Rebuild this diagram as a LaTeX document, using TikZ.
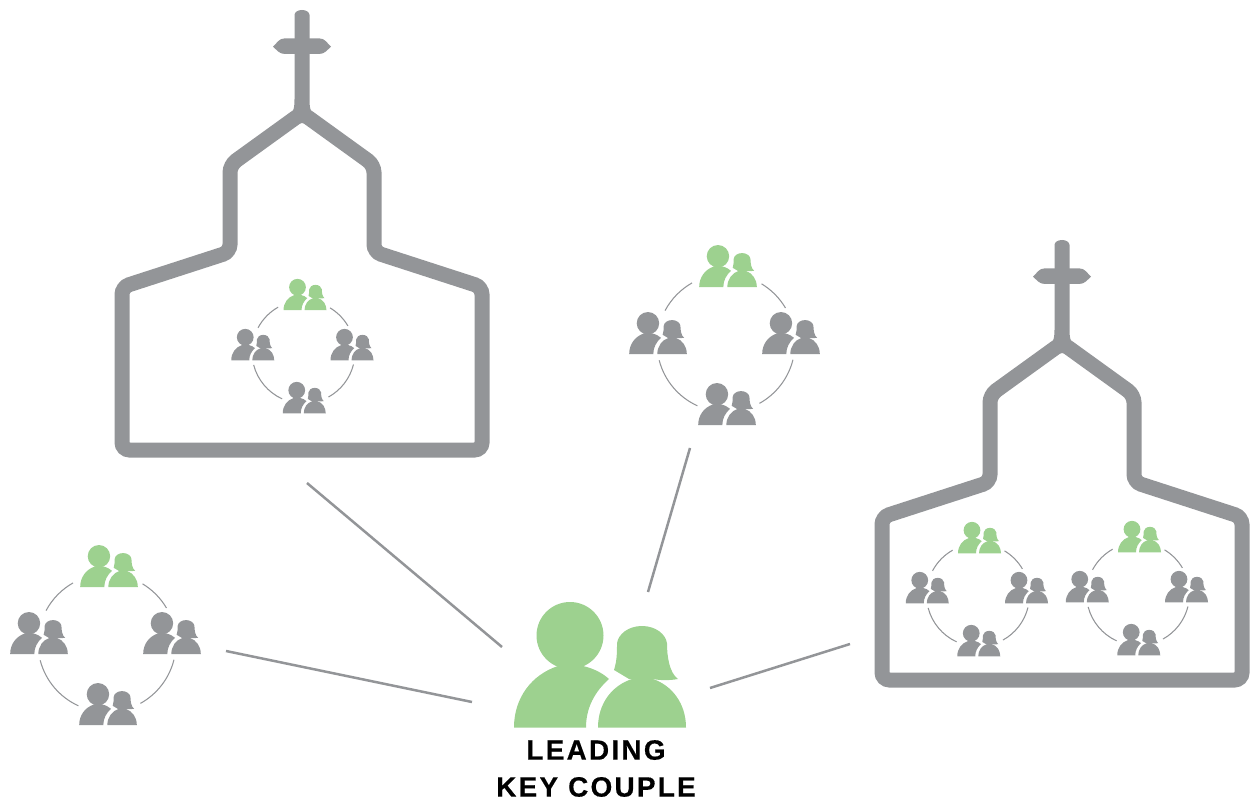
\documentclass[tikz,border=0pt]{standalone}
\usepackage{fontspec}
\newfontfamily\captionfont[LetterSpace=8,BoldFeatures={FakeBold=0.4}]{Liberation Sans}
\definecolor{cGrey}{RGB}{147,149,152}
\definecolor{cGreen}{RGB}{157,209,143}

\begin{document}
\begin{tikzpicture}[x=0.2mm, y=0.2mm,
wall/.style={draw = cGrey, line width = 3mm, rounded corners = 1.5mm, line join = miter},
ringline/.style={draw = cGrey, line width = 0.6pt},
link/.style={draw = cGrey, line width = 0.5mm},
caption/.style={align = center, inner sep = 0cm, font = \captionfont\bfseries\fontsize{15.9}{21}\selectfont},
pics/couple/.style={code={
	\fill[#1] (-30,92) circle[radius = 33.5];
	\fill[#1] (-86,0) .. controls (-86,30) and (-68,53) .. (-42,61.5) -- (-17,61.5)
		.. controls (-6,59) and (3,54) .. (9,48.5) .. controls (-5,36) and (-14,20) .. (-14,0) -- cycle;
	\fill[#1] (-2,0) .. controls (-2,24) and (12,42) .. (32,48.5) -- (53,48.5)
		.. controls (72,42) and (86,24) .. (86,0) -- cycle;
	\fill[#1] (14,57.5) .. controls (17,67) and (17,75) .. (17,84) .. controls (18,93) and (28,101.5) .. (42,101.5)
		.. controls (56,101.5) and (66,93) .. (67,84) .. controls (67,72) and (69,55) .. (78,48.5)
		.. controls (70,47) and (60,47) .. (53,48.5) -- (29,48.5) -- cycle;
}},
pics/ring/.style={code={
	\pic[transform shape] at (6,167) {couple = cGreen};
	\pic[transform shape] at (-203,-33) {couple = cGrey};
	\pic[transform shape] at (194,-33) {couple = cGrey};
	\pic[transform shape] at (3,-245) {couple = cGrey};
	\draw[ringline] (119.5:206) arc[start angle = 119.5, end angle = 152, radius = 206];
	\draw[ringline] (194.5:206) arc[start angle = 194.5, end angle = 245.5, radius = 206];
	\draw[ringline] (299:206) arc[start angle = 299, end angle = 346, radius = 206];
	\draw[ringline] (30.5:206) arc[start angle = 30.5, end angle = 59, radius = 206];
}},
pics/church/.style={code={
	\draw[wall] (0,0) -- (-72,-52) -- (-72,-139) -- (-180,-174) -- (-180,-337)
		-- (180,-337) -- (180,-174) -- (72,-139) -- (72,-52) -- cycle;
	\fill[cGrey] (-11,-1) .. controls (-8,3) and (-7.5,6) .. (-7.5,14) -- (-7.5,98)
		.. controls (-7.5,101) and (-4,103) .. (0,103) .. controls (4,103) and (7.5,101) .. (7.5,98)
		-- (7.5,14) .. controls (7.5,6) and (8,3) .. (11,-1) -- cycle;
	\fill[cGrey] (-29,66.3) .. controls (-25,70) and (-23,74.7) .. (-17,74.7) -- (17,74.7)
		.. controls (23,74.7) and (25,70) .. (29,66.3) .. controls (25,63) and (23,59) .. (17,59)
		-- (-17,59) .. controls (-23,59) and (-25,63) .. (-29,66.3) -- cycle;
}}]

\useasboundingbox (0,0) rectangle (1254,800);

\pic (churchA) at (302,687) {church};
\pic (churchB) at (1062,457) {church};

\pic[scale = .25] (ringA) at (303.5,448) {ring};
\pic[scale = .25] (ringB) at (978,205) {ring};
\pic[scale = .25] (ringC) at (1138,206) {ring};
\pic[scale = .335] (ringD) at (726,457) {ring};
\pic[scale = .335] (ringE) at (107,157) {ring};

\pic (lead) at (600,72.5) {couple = cGreen};
\node[caption] (leadlabel) at (596,31.5) {LEADING\\KEY COUPLE};

\coordinate (fromA) at (307,317);
\coordinate (toA) at (502,153);
\coordinate (fromD) at (690,352);
\coordinate (toD) at (648,208);
\coordinate (fromE) at (226,149);
\coordinate (toE) at (472,98);
\coordinate (fromB) at (850,156);
\coordinate (toB) at (710,112);

\path[link] (fromA) to (toA);
\path[link] (fromD) to (toD);
\path[link] (fromE) to (toE);
\path[link] (fromB) to (toB);
\end{tikzpicture}
\end{document}
